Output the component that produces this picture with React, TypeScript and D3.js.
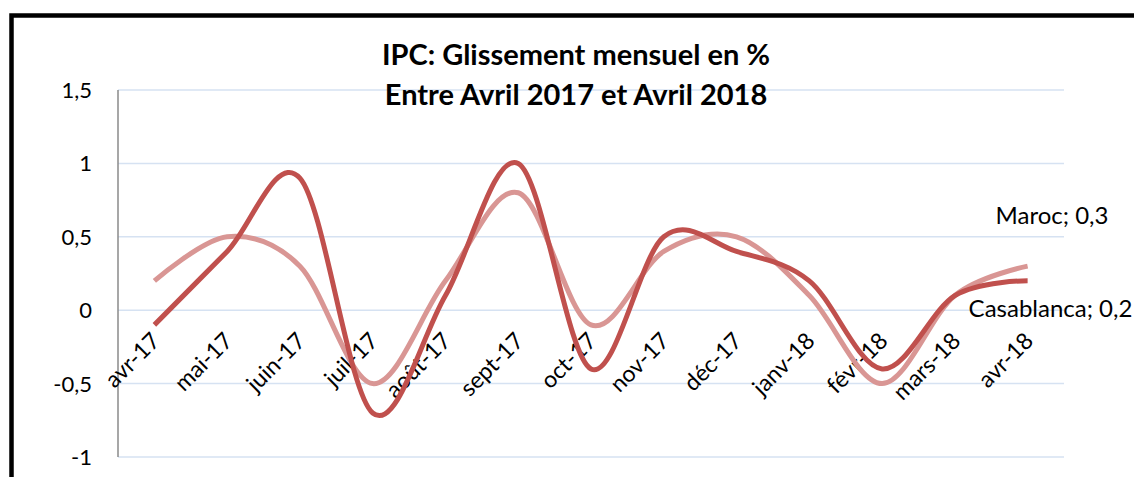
import React from 'react';
import * as d3 from 'd3';

const width = 1134;
const height = 477;
const plot = { left: 118, right: 1064, top: 90, bottom: 457 };
const dark = '#c0504d';
const light = '#d99694';
const gridColor = '#d6e2f2';
const font = 'Lato, "Open Sans", sans-serif';

// data
const months = ['avr-17', 'mai-17', 'juin-17', 'juil-17', 'août-17', 'sept-17', 'oct-17', 'nov-17', 'déc-17', 'janv-18', 'févr-18', 'mars-18', 'avr-18'];
const casablanca = [-0.1, 0.4, 0.9, -0.7, 0.1, 1.0, -0.4, 0.5, 0.4, 0.2, -0.4, 0.1, 0.2];
const maroc = [0.2, 0.5, 0.3, -0.5, 0.2, 0.8, -0.1, 0.4, 0.5, 0.1, -0.5, 0.1, 0.3];
const yTicks = [-1, -0.5, 0, 0.5, 1, 1.5];
const titleLines = ['IPC: Glissement mensuel en %', 'Entre Avril 2017 et Avril 2018'];

const fmt = (v: number) => String(v).replace('.', ',');

export default function App() {
  const x = d3.scalePoint<string>().domain(months).range([plot.left, plot.right]).padding(0.5);
  const y = d3.scaleLinear().domain([-1, 1.5]).range([plot.bottom, plot.top]);

  const line = d3
    .line<number>()
    .x((_, i) => x(months[i]) as number)
    .y(d => y(d))
    .curve(d3.curveCardinal.tension(0));

  const last = months.length - 1;
  const lastX = x(months[last]) as number;

  return (
    <svg width={width} height={height} style={{ position: 'absolute', left: 0, top: 0, background: '#fff' }}>
      <rect x={0} y={0} width={width} height={height} fill="#fff" />
      {/* frame */}
      <path d={`M11.5,${height + 5} V15.5 H${width + 5}`} fill="none" stroke="#000" strokeWidth={4.5} />

      {/* gridlines */}
      {yTicks.map(t => (
        <line key={t} x1={plot.left} x2={plot.right} y1={y(t)} y2={y(t)} stroke={gridColor} strokeWidth={1.5} />
      ))}
      <line x1={plot.left} x2={plot.left} y1={plot.top} y2={plot.bottom} stroke="#8a8a8a" strokeWidth={1.5} />

      {/* y tick labels */}
      {yTicks.map(t => (
        <text key={t} x={92} y={y(t)} dy="0.36em" textAnchor="end" fontFamily={font} fontSize={22} fill="#000">
          {fmt(t)}
        </text>
      ))}

      {/* title */}
      {titleLines.map((t, i) => (
        <text key={t} x={576} y={65 + i * 40} textAnchor="middle" fontFamily={font} fontWeight="bold" fontSize={29} fill="#000">
          {t}
        </text>
      ))}

      {/* x labels */}
      {months.map(m => (
        <text
          key={m}
          transform={`translate(${(x(m) as number) + 7},${y(0) + 32}) rotate(-45)`}
          textAnchor="end"
          fontFamily={font}
          fontSize={23}
          fill="#000"
        >
          {m}
        </text>
      ))}

      <path d={line(maroc) ?? ''} fill="none" stroke={light} strokeWidth={5} strokeLinejoin="round" />
      <path d={line(casablanca) ?? ''} fill="none" stroke={dark} strokeWidth={5} strokeLinejoin="round" />

      {/* end labels */}
      <text x={lastX - 32} y={y(maroc[last]) - 42} fontFamily={font} fontSize={24} fill="#000">
        {`Maroc; ${fmt(maroc[last])}`}
      </text>
      <text x={lastX - 59} y={y(casablanca[last]) + 36} fontFamily={font} fontSize={24} fill="#000">
        {`Casablanca; ${fmt(casablanca[last])}`}
      </text>
    </svg>
  );
}
